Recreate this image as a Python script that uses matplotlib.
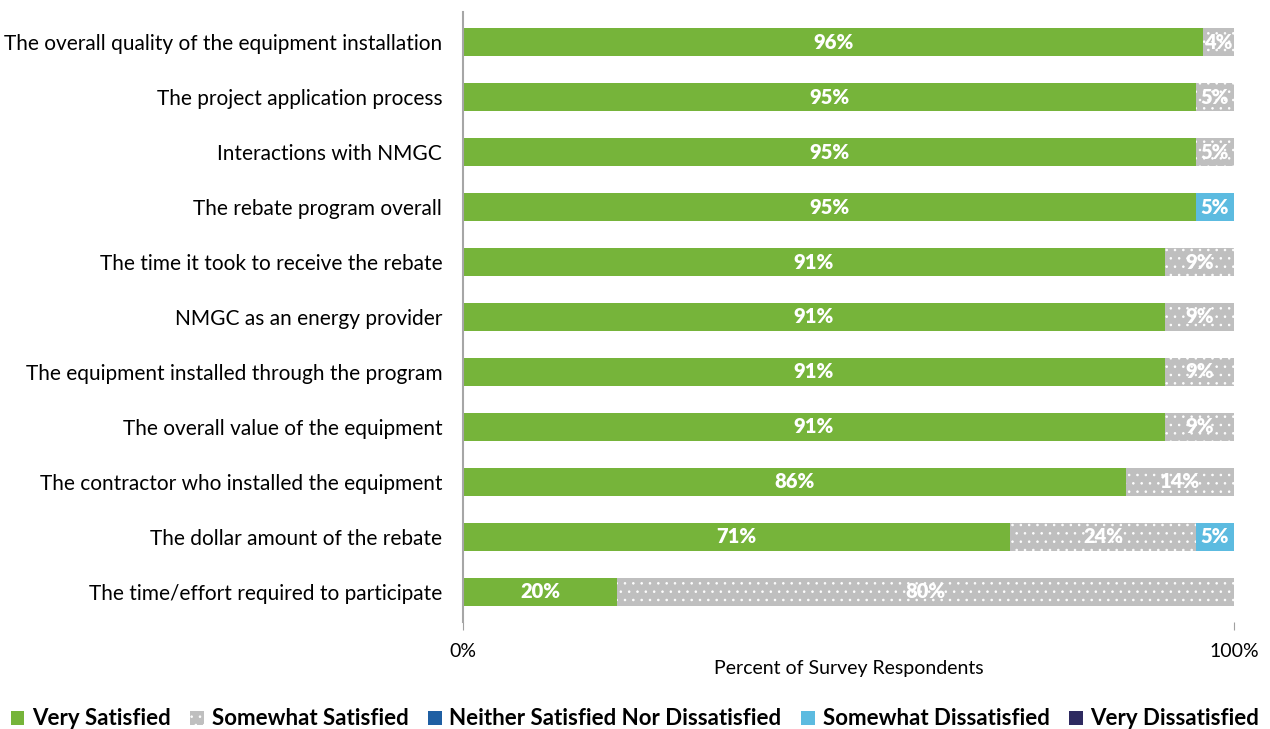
import numpy as np
import matplotlib.pyplot as plt
from matplotlib.patches import Patch

plt.rcParams['font.family'] = ['Lato', 'DejaVu Sans']
plt.rcParams['hatch.linewidth'] = 0.6

questions = [
    "The overall quality of the equipment installation",
    "The project application process",
    "Interactions with NMGC",
    "The rebate program overall",
    "The time it took to receive the rebate",
    "NMGC as an energy provider",
    "The equipment installed through the program",
    "The overall value of the equipment",
    "The contractor who installed the equipment",
    "The dollar amount of the rebate",
    "The time/effort required to participate",
]
very_sat = [96, 95, 95, 95, 91, 91, 91, 91, 86, 71, 20]
somewhat_sat = [4, 5, 5, 0, 9, 9, 9, 9, 14, 24, 80]
neither = [0, 0, 0, 0, 0, 0, 0, 0, 0, 0, 0]
somewhat_dis = [0, 0, 0, 5, 0, 0, 0, 0, 0, 5, 0]
very_dis = [0, 0, 0, 0, 0, 0, 0, 0, 0, 0, 0]

series = [
    ("Very Satisfied", very_sat, "#76b43a", None),
    ("Somewhat Satisfied", somewhat_sat, "#bfbfbf", ".."),
    ("Neither Satisfied Nor Dissatisfied", neither, "#1f5fa3", None),
    ("Somewhat Dissatisfied", somewhat_dis, "#5cbbe0", None),
    ("Very Dissatisfied", very_dis, "#2e2a60", None),
]

fig = plt.figure(figsize=(12.7, 7.29), dpi=100)
ax = fig.add_axes([0.3646, 0.1468, 0.6071, 0.8368])

y = np.arange(len(questions))
left = np.zeros(len(questions))
handles = []
for name, vals, color, hatch in series:
    vals = np.array(vals, dtype=float)
    bars = ax.barh(y, vals / 100, left=left / 100, height=0.51, color=color,
                   hatch=hatch, edgecolor="white" if hatch else color, linewidth=0)
    for b, v, l in zip(bars, vals, left):
        if v > 0:
            ax.text((l + v / 2) / 100, b.get_y() + b.get_height() / 2, f"{v:.0f}%",
                    ha="center", va="center", color="white", fontsize=14.5,
                    fontweight="heavy")
    left += vals
    handles.append(Patch(facecolor=color, hatch=hatch, edgecolor="white" if hatch else color,
                         linewidth=0, label=name))

ax.set_xlim(0, 1)
ax.set_ylim(len(questions) - 0.45, -0.55)
ax.set_yticks(y)
ax.set_yticklabels(questions, fontsize=15)
ax.tick_params(axis="y", length=0, pad=15)
ax.set_xticks([0, 1])
ax.set_xticklabels(["0%", "100%"], fontsize=14)
ax.tick_params(axis="x", length=6, color="#a0a0a0", pad=9)
ax.set_xlabel("Percent of Survey Respondents", fontsize=14, labelpad=0)
for s in ["top", "right", "bottom"]:
    ax.spines[s].set_visible(False)
ax.spines["left"].set_color("#a6a6a6")
ax.spines["left"].set_linewidth(1.5)

leg = fig.legend(handles=handles, loc="lower center", bbox_to_anchor=(0.5, -0.028), ncol=5,
                 frameon=False, handlelength=0.6, handleheight=0.6, handletextpad=0.35,
                 columnspacing=0.9, prop={"weight": "bold", "size": 16})

fig.savefig("out.png", dpi=100)
